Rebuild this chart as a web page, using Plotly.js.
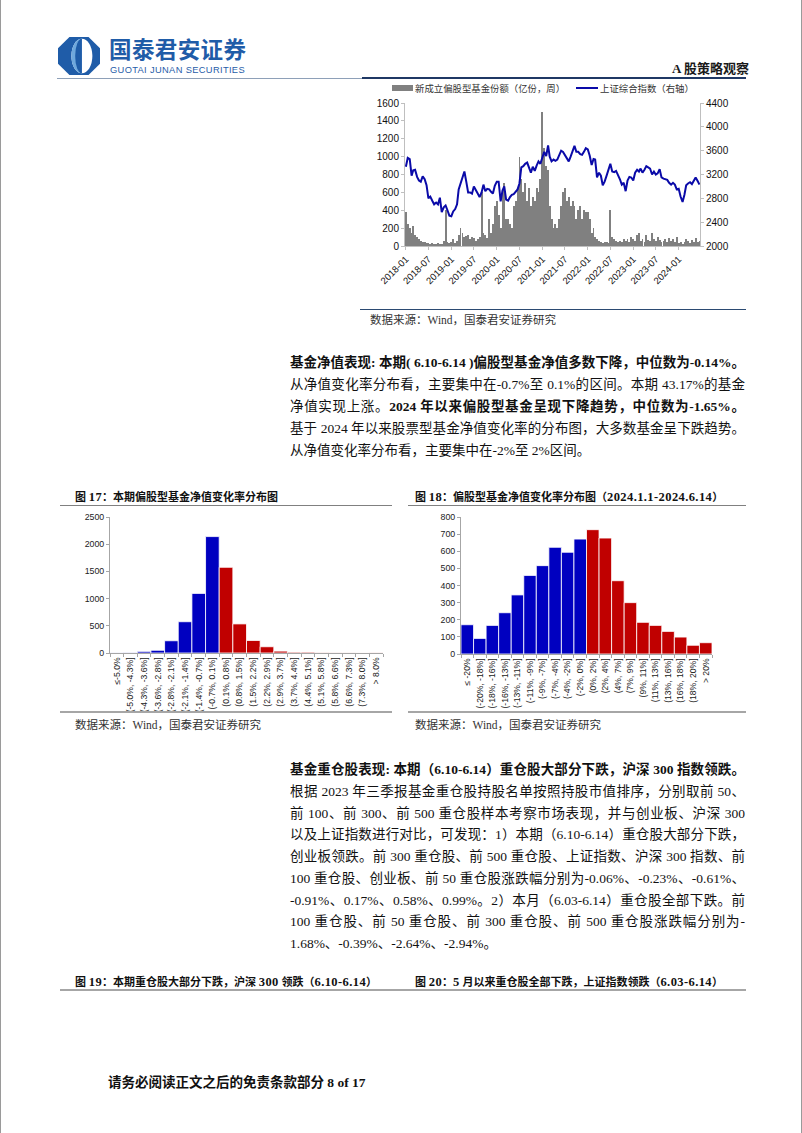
<!DOCTYPE html>
<html><head><meta charset="utf-8">
<script src="https://cdn.plot.ly/plotly-3.0.1.min.js"></script>
<style>
body{margin:0;width:802px;height:1133px;position:relative;background:#fff;overflow:hidden;font-family:"Liberation Serif","Noto Sans CJK SC",serif;color:#111;}
.p{position:absolute;left:290px;width:455px;font-size:13.5px;line-height:22px;height:22px;white-space:nowrap;}
.j{text-align:justify;text-align-last:justify;}
.b{font-weight:700;}
.ln{position:absolute;}
.cap{position:absolute;font-size:11px;font-weight:700;white-space:nowrap;line-height:14px;}
.cap .n{font-size:12.5px;letter-spacing:0.4px;}
.src{position:absolute;font-size:11.5px;color:#333;white-space:nowrap;line-height:14px;}
.clip{position:absolute;overflow:hidden;}
.leg{position:absolute;font-family:"Noto Sans CJK SC",sans-serif;font-size:9.4px;color:#333;white-space:nowrap;line-height:12px;}
</style>
</head><body>

<!-- page frame -->
<div class="ln" style="left:0;top:0;width:1px;height:1133px;background:#9a9a9a"></div>
<div class="ln" style="left:801px;top:0;width:1px;height:1133px;background:#9a9a9a"></div>

<!-- header -->
<svg class="ln" style="left:56px;top:35px" width="46" height="42" viewBox="0 0 48 44">
  <path d="M14 2 H34 L46 14 V30 L34 42 H14 L2 30 V14 Z" fill="#1f5ca8"/>
  <ellipse cx="27" cy="22" rx="11" ry="18" fill="#ffffff"/>
  <path d="M27 4 A11 18 0 0 0 27 40 Z" fill="#6fa8dc"/>
  <path d="M27 4 A7 18 0 0 0 27 40 Z" fill="#1f5ca8"/>
</svg>
<div class="ln" style="left:109px;top:37px;font-family:'Noto Sans CJK SC';font-weight:700;font-size:22.5px;color:#1f5ca8;line-height:22px;height:22px;white-space:nowrap;letter-spacing:0.4px;">国泰君安证券</div>
<div class="ln" style="left:110px;top:65px;font-family:'Liberation Sans','Noto Sans';font-size:9.3px;color:#1f5ca8;line-height:10px;letter-spacing:0.35px;white-space:nowrap;">GUOTAI JUNAN SECURITIES</div>
<div class="ln" style="left:672px;top:61px;font-size:13px;font-weight:700;line-height:16px;white-space:nowrap;color:#1a1a1a;">A 股策略观察</div>
<div class="ln" style="left:57px;top:78px;width:305px;height:1px;background:#8ea0b8"></div>
<div class="ln" style="left:362px;top:77px;width:384px;height:2px;background:#1f3864"></div>

<!-- top chart -->
<div id="top" class="ln" style="left:350px;top:78px;width:400px;height:220px"></div>
<div class="ln" style="left:392px;top:85px;width:21px;height:6px;background:#808080"></div>
<div class="leg" style="left:415px;top:82px;">新成立偏股型基金份额（亿份，周）</div>
<div class="ln" style="left:576px;top:87px;width:22px;height:2px;background:#0a0aa8"></div>
<div class="leg" style="left:600px;top:82px;">上证综合指数（右轴）</div>
<div class="ln" style="left:360px;top:309px;width:386px;height:1px;background:#2b4a72"></div>
<div class="src" style="left:370px;top:313px;">数据来源：Wind，国泰君安证券研究</div>

<!-- paragraph 1 -->
<div class="p j b" style="top:352px;">基金净值表现: 本期( 6.10-6.14 )偏股型基金净值多数下降，中位数为-0.14%。</div>
<div class="p j" style="top:374px;">从净值变化率分布看，主要集中在-0.7%至 0.1%的区间。本期 43.17%的基金</div>
<div class="p j" style="top:396px;">净值实现上涨。<span class="b">2024 年以来偏股型基金呈现下降趋势，中位数为-1.65%。</span></div>
<div class="p j" style="top:418px;">基于 2024 年以来股票型基金净值变化率的分布图，大多数基金呈下跌趋势。</div>
<div class="p" style="top:440px;">从净值变化率分布看，主要集中在-2%至 2%区间。</div>

<!-- fig 17 / 18 -->
<div class="cap" style="left:75px;top:490px;">图 <span class="n">17</span>：本期偏股型基金净值变化率分布图</div>
<div class="cap" style="left:415px;top:490px;">图 <span class="n">18</span>：偏股型基金净值变化率分布图（<span class="n">2024.1.1-2024.6.14</span>）</div>
<div class="ln" style="left:60px;top:505px;width:332px;height:1px;background:#808080"></div>
<div class="ln" style="left:408px;top:505px;width:338px;height:1px;background:#808080"></div>
<div class="clip" style="left:60px;top:510px;width:335px;height:202px"><div id="h1" style="width:335px;height:240px"></div></div>
<div class="clip" style="left:400px;top:510px;width:345px;height:202px"><div id="h2" style="width:345px;height:240px"></div></div>
<div class="ln" style="left:60px;top:711px;width:332px;height:2px;background:#a6a6a6"></div>
<div class="ln" style="left:408px;top:711px;width:338px;height:2px;background:#a6a6a6"></div>
<div class="src" style="left:75px;top:718px;">数据来源：Wind，国泰君安证券研究</div>
<div class="src" style="left:415px;top:718px;">数据来源：Wind，国泰君安证券研究</div>

<!-- paragraph 2 -->
<div class="p j b" style="top:759px;">基金重仓股表现: 本期（6.10-6.14）重仓股大部分下跌，沪深 300 指数领跌。</div>
<div class="p j" style="top:781px;">根据 2023 年三季报基金重仓股持股名单按照持股市值排序，分别取前 50、</div>
<div class="p j" style="top:803px;">前 100、前 300、前 500 重仓股样本考察市场表现，并与创业板、沪深 300</div>
<div class="p j" style="top:824px;">以及上证指数进行对比，可发现：1）本期（6.10-6.14）重仓股大部分下跌，</div>
<div class="p j" style="top:846px;">创业板领跌。前 300 重仓股、前 500 重仓股、上证指数、沪深 300 指数、前</div>
<div class="p j" style="top:868px;">100 重仓股、创业板、前 50 重仓股涨跌幅分别为-0.06%、-0.23%、-0.61%、</div>
<div class="p j" style="top:890px;">-0.91%、0.17%、0.58%、0.99%。2）本月（6.03-6.14）重仓股全部下跌。前</div>
<div class="p j" style="top:911px;">100 重仓股、前 50 重仓股、前 300 重仓股、前 500 重仓股涨跌幅分别为-</div>
<div class="p" style="top:933px;">1.68%、-0.39%、-2.64%、-2.94%。</div>

<!-- fig 19 / 20 -->
<div class="cap" style="left:75px;top:975px;">图 <span class="n">19</span>：本期重仓股大部分下跌，沪深 <span class="n">300</span> 领跌（<span class="n">6.10-6.14</span>）</div>
<div class="cap" style="left:415px;top:975px;">图 <span class="n">20</span>：<span class="n">5</span> 月以来重仓股全部下跌，上证指数领跌（<span class="n">6.03-6.14</span>）</div>
<div class="ln" style="left:60px;top:989px;width:686px;height:2px;background:#a6a6a6"></div>

<!-- footer -->
<div class="ln" style="left:108px;top:1075px;font-size:13.5px;font-weight:700;line-height:16px;white-space:nowrap;">请务必阅读正文之后的免责条款部分 8 of 17</div>

<script>
// ===== Top chart data (semi-monthly readings, 1st & 16th of each month) =====
const fund2018 = [380,250,200,140,220,120,100,80,60,50,40,30,30,20,30,20,20,30,20,20,60,400,50,30];
const fund2019 = [40,80,30,60,120,200,150,100,110,120,80,100,90,60,80,100,600,150,120,90,300,150,250,450];
const fund2020 = [500,350,200,600,700,300,300,250,200,450,500,650,1000,750,600,700,500,650,450,550,500,650,600,750];
const fund2021 = [1500,1100,900,850,450,300,200,250,200,300,450,600,650,500,550,450,500,450,300,400,450,300,400,380];
const fund2022 = [380,300,150,200,100,80,60,40,30,50,40,30,400,100,80,60,50,60,40,80,60,80,50,100];
const fund2023 = [80,60,120,150,60,80,50,120,70,60,150,80,60,100,70,50,60,80,40,90,60,80,50,100];
const fund2024 = [30,50,20,40,80,60,30,70,50,90,40,60];

const idx2018 = [3330,3480,3460,3180,3270,3280,3160,3100,3080,3170,3120,3020,2800,2830,2760,2700,2730,2700,2810,2570,2650,2680,2600,2510];
const idx2019 = [2500,2580,2620,2700,2950,3050,3150,3250,3080,2900,2900,2880,3000,2930,2880,2820,2900,3030,2920,2960,2950,2910,2880,3010];
const idx2020 = [3080,3080,2750,2930,3000,2780,2760,2820,2860,2870,2920,2950,3050,3320,3340,3380,3400,3310,3230,3330,3260,3350,3420,3380];
const idx2021 = [3480,3580,3510,3690,3500,3420,3450,3430,3450,3530,3600,3580,3530,3480,3420,3500,3580,3680,3580,3580,3540,3530,3580,3640];
const idx2022 = [3620,3520,3360,3460,3450,3150,3230,3180,3020,3080,3180,3300,3380,3250,3240,3260,3200,3120,3030,3060,2920,3100,3160,3150];
const idx2023 = [3100,3230,3280,3250,3300,3230,3280,3340,3320,3300,3200,3250,3200,3220,3290,3150,3130,3120,3110,3060,3030,3060,3030,2950];
const idx2024 = [2960,2830,2740,2860,3020,3050,3070,3040,3110,3150,3090,3030];

const years = [2018,2019,2020,2021,2022,2023,2024];
const fundByYear = [fund2018,fund2019,fund2020,fund2021,fund2022,fund2023,fund2024];
const idxByYear = [idx2018,idx2019,idx2020,idx2021,idx2022,idx2023,idx2024];

// ===== Histogram data =====
const h1Cats = ["≤-5.0%","(-5.0%, -4.3%]","(-4.3%, -3.6%]","(-3.6%, -2.8%]","(-2.8%, -2.1%]","(-2.1%, -1.4%]","(-1.4%, -0.7%]","(-0.7%, 0.1%]","(0.1%, 0.8%]","(0.8%, 1.5%]","(1.5%, 2.2%]","(2.2%, 2.9%]","(2.9%, 3.7%]","(3.7%, 4.4%]","(4.4%, 5.1%]","(5.1%, 5.8%]","(5.8%, 6.6%]","(6.6%, 7.3%]","(7.3%, 8.0%]","> 8.0%"];
const h1Vals = [2,5,30,50,225,575,1095,2140,1575,535,230,115,35,15,15,5,3,2,1,3];
const h1NegCount = 8;

const h2Cats = ["≤ -20%","(-20%, -18%]","(-18%, -16%]","(-16%, -13%]","(-13%, -11%]","(-11%, -9%]","(-9%, -7%]","(-7%, -4%]","(-4%, -2%]","(-2%, 0%]","(0%, 2%]","(2%, 4%]","(4%, 7%]","(7%, 9%]","(9%, 11%]","(11%, 13%]","(13%, 16%]","(16%, 18%]","(18%, 20%]","> 20%"];
const h2Vals = [171,91,167,241,345,459,516,623,594,671,726,677,428,300,185,167,132,99,51,66];
const h2NegCount = 10;

// ===== build top chart =====
function halfMonthDates(year, n){
  const d=[];
  for(let i=0;i<n;i++){
    const m=Math.floor(i/2)+1;
    d.push(year+'-'+String(m).padStart(2,'0')+'-'+(i%2?'16':'01'));
  }
  return d;
}
let dates=[], fund=[], idx=[];
years.forEach((y,k)=>{
  dates = dates.concat(halfMonthDates(y, fundByYear[k].length));
  fund = fund.concat(fundByYear[k]);
  idx = idx.concat(idxByYear[k]);
});

const axStyle = {showline:true, linecolor:'#bfbfbf', linewidth:1, ticks:'outside', ticklen:3, tickcolor:'#bfbfbf', showgrid:false, zeroline:false};
const tickFont = {family:'Liberation Sans, Noto Sans, sans-serif', size:10, color:'#111'};

Plotly.newPlot('top', [
  {type:'bar', x:dates, y:fund, marker:{color:'#808080', line:{width:0}}, width:15*86400000, yaxis:'y', name:'新成立偏股型基金份额（亿份，周）'},
  {type:'scatter', mode:'lines', x:dates, y:idx, line:{color:'#0a0aa8', width:2}, yaxis:'y2', name:'上证综合指数（右轴）'}
], {
  width:400, height:220, margin:{l:55, r:50, t:25, b:52},
  paper_bgcolor:'rgba(0,0,0,0)', plot_bgcolor:'rgba(0,0,0,0)',
  showlegend:false, bargap:0,
  xaxis:Object.assign({}, axStyle, {type:'date', range:['2017-12-25','2024-06-20'], tick0:'2018-01-01', dtick:'M6', tickformat:'%Y-%m', tickangle:-45, tickfont:{family:'Liberation Sans, sans-serif', size:9.5, color:'#111'}}),
  yaxis:Object.assign({}, axStyle, {range:[0,1600], dtick:200, tickfont:tickFont}),
  yaxis2:Object.assign({}, axStyle, {range:[2000,4400], dtick:400, overlaying:'y', side:'right', tickfont:tickFont})
}, {staticPlot:true, displayModeBar:false});

// ===== histograms =====
function hist(id, cats, vals, negCount, yMax, dtick, margin, w){
  const colors = vals.map((v,i)=> i<negCount ? '#0000c0' : '#c00000');
  Plotly.newPlot(id, [{type:'bar', x:cats, y:vals, marker:{color:colors, line:{color:'#ffffff', width:0.8}}}], {
    width:w, height:240, margin:margin, bargap:0, showlegend:false,
    paper_bgcolor:'rgba(0,0,0,0)', plot_bgcolor:'rgba(0,0,0,0)',
    xaxis:{type:'category', range:[-0.5, cats.length-0.5], tickangle:-90, showline:true, linecolor:'#a6a6a6', ticks:'outside', ticklen:3, tickcolor:'#a6a6a6', tickson:'boundaries', showgrid:false, zeroline:false, tickfont:{family:'Liberation Sans, sans-serif', size:8.6, color:'#222'}},
    yaxis:{range:[0,yMax], dtick:dtick, showline:true, linecolor:'#a6a6a6', ticks:'outside', ticklen:3, tickcolor:'#a6a6a6', showgrid:false, zeroline:false, tickfont:{family:'Liberation Sans, sans-serif', size:8.8, color:'#222'}}
  }, {staticPlot:true, displayModeBar:false});
}
hist('h1', h1Cats, h1Vals, h1NegCount, 2500, 500, {l:50, r:12, t:7, b:97}, 335);
hist('h2', h2Cats, h2Vals, h2NegCount, 800, 100, {l:61, r:33, t:7, b:96}, 345);
</script>
</body></html>
